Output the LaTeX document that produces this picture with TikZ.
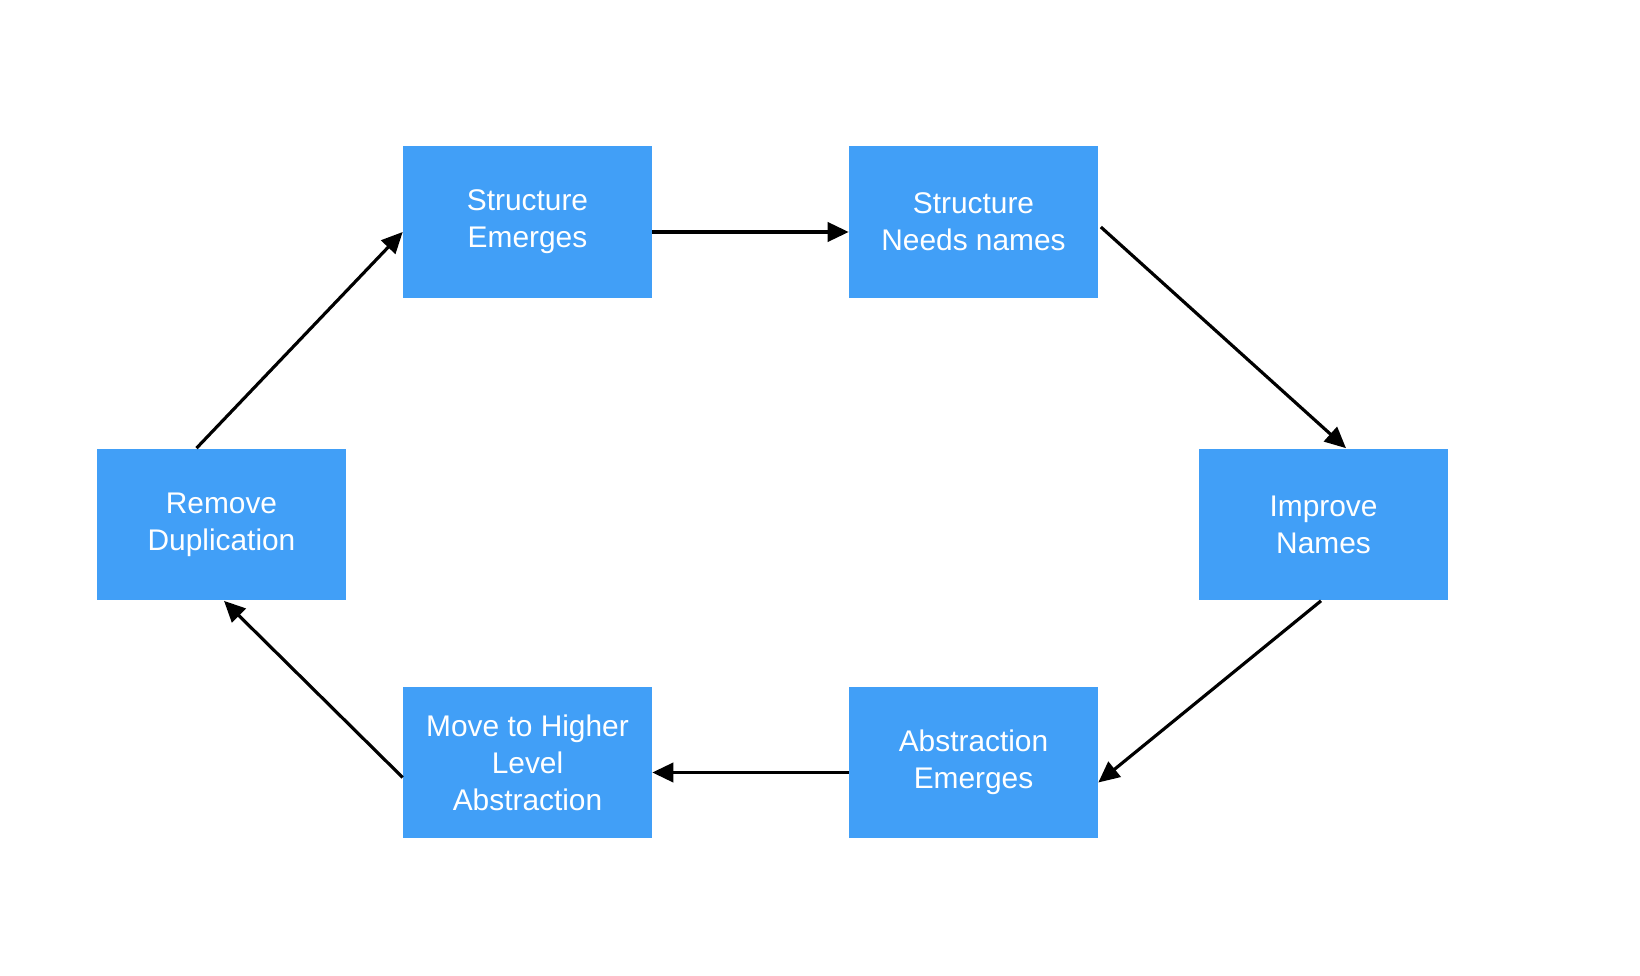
\documentclass[tikz,border=0pt]{standalone}
\usepackage{fontspec}
\setmainfont{Liberation Sans}
\usetikzlibrary{arrows.meta}
\definecolor{boxblue}{HTML}{419FF7}
\begin{document}
\begin{tikzpicture}[x=0.02cm,y=-0.02cm,
	stage/.style={fill=boxblue,text=white,minimum width=4.98cm,minimum height=3.04cm,
		align=center,font=\fontsize{17}{21}\selectfont,inner sep=0pt},
	link/.style={line width=1.8pt,-{Triangle[length=12pt,width=11pt]}}]
	\useasboundingbox (0,0) rectangle (1640,976);
	\node(emerge) [stage] at (527.5, 222) {Structure\\Emerges};
	\node(needs) [stage] at (973.5, 222) {Structure\\Needs names};
	\node(improve) [stage] at (1323.5, 524.5) {Improve\\Names};
	\node(absem) [stage] at (973.5, 762.5) {Abstraction\\Emerges};
	\node(higher) [stage] at (527.5, 762.5) {Move to Higher\\Level\\Abstraction};
	\node(dup) [stage] at (221.5, 524.5) {Remove\\Duplication};
	\draw[link] ([yshift=-0.2cm]emerge.east) -- ([yshift=-0.2cm]needs.west);
	\draw[link] ([yshift=-0.1cm,xshift=0.05cm]needs.east) -- ([xshift=0.45cm]improve.north);
	\draw[link] ([xshift=-0.05cm]improve.south) -- ([yshift=-0.4cm]absem.east);
	\draw[link] ([yshift=-0.2cm]absem.west) -- ([yshift=-0.2cm]higher.east);
	\draw[link] ([yshift=-0.3cm]higher.west) -- ([xshift=0.05cm]dup.south);
	\draw[link] ([xshift=-0.5cm]dup.north) -- ([yshift=-0.2cm]emerge.west);
\end{tikzpicture}
\end{document}
